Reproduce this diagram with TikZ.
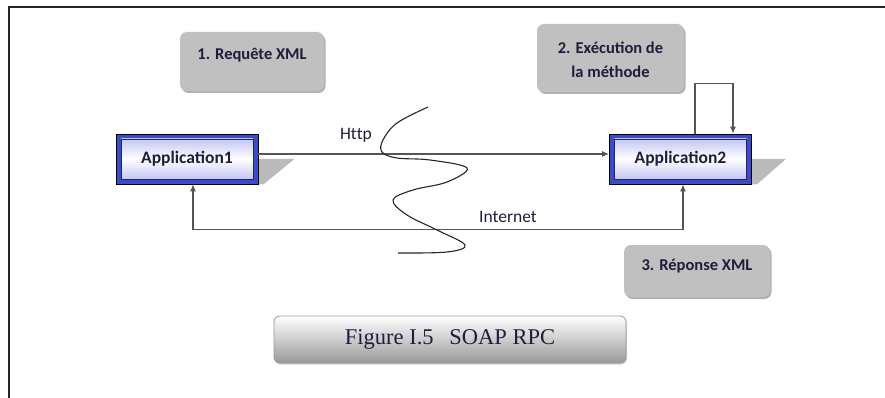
\documentclass[tikz,border=0pt]{standalone}
\usepackage{fontspec}
\setmainfont{Carlito}
\newfontfamily\capfont{Liberation Serif}
\usetikzlibrary{arrows.meta,shadows,backgrounds}
\definecolor{appblue}{HTML}{3A4CC8}
\definecolor{lav}{HTML}{B4B8F0}
\definecolor{boxgray}{HTML}{C0C0C0}
\definecolor{txt}{HTML}{1E1E3C}
\definecolor{linegray}{HTML}{555555}
\definecolor{shadowgray}{HTML}{BBBBBB}
\begin{document}
\begin{tikzpicture}[x=1pt,y=-1pt,
  appbox/.style={draw=black, line width=0.8pt, fill=appblue, minimum width=142pt, minimum height=50pt, inner sep=0pt,
    font=\bfseries\fontsize{17.5}{20}\selectfont, text=txt,
    path picture={
      \shade[top color=lav, bottom color=lav, middle color=white]
        ([shift={(5pt,-5pt)}]path picture bounding box.north west) rectangle ([shift={(-5pt,5pt)}]path picture bounding box.south east);
      \draw[appblue!50!black, line width=0.6pt]
        ([shift={(5pt,-5pt)}]path picture bounding box.north west) rectangle ([shift={(-5pt,5pt)}]path picture bounding box.south east);}},
  graybox/.style={fill=boxgray, rounded corners=7pt, inner sep=0pt,
    drop shadow={shadow xshift=1.5pt, shadow yshift=-2pt, fill=black, opacity=0.3}},
  boxtext/.style={font=\bfseries\fontsize{16.5}{24}\selectfont, text=txt, align=center, inner sep=0pt},
  lbl/.style={font=\fontsize{17.5}{20}\selectfont, text=txt, inner sep=0pt},
  conn/.style={draw=linegray, line width=1.1pt},
  tip/.style={-{Latex[length=7pt,width=6pt]}},
  bothtip/.style={{Latex[length=7pt,width=6pt]}-{Latex[length=7pt,width=6pt]}},
]
\useasboundingbox (0,0) rectangle (885,398);
\draw[line width=2pt, black!85] (885,7) -- (9,7) -- (9,398);

% application boxes
\node[appbox] (app1) at (187,159) {Application1};
\node[appbox] (app2) at (680.5,159) {Application2};
\begin{pgfonlayer}{background}
  \fill[shadowgray] (app1.east) -- ++(36pt,0pt) -- ([xshift=5pt]app1.south east) -- (app1.south east) -- cycle;
  \fill[shadowgray] (app2.east) -- ++(34pt,0pt) -- ([xshift=5pt]app2.south east) -- (app2.south east) -- cycle;
\end{pgfonlayer}

% gray step boxes
\node[graybox, minimum width=144pt, minimum height=59pt] (req) at (252,61.5) {};
\node[boxtext] (reqt) at (252,55) {1. Requête XML};
\node[graybox, minimum width=147pt, minimum height=68pt] (exe) at (610.5,58) {};
\node[boxtext] (exet) at (610.5,60) {2. Exécution de\\la méthode};
\node[graybox, minimum width=146pt, minimum height=52pt] (rep) at (697,271) {};
\node[boxtext] (rept) at (697,266) {3. Réponse XML};

% caption
\node[draw=gray!80, line width=0.8pt, rounded corners=6pt, top color=white, bottom color=gray!80,
  minimum width=352pt, minimum height=47pt, inner sep=0pt,
  font=\capfont\fontsize{22.5}{26}\selectfont, text=txt,
  drop shadow={shadow xshift=1pt, shadow yshift=-1.5pt, fill=black, opacity=0.2}] (cap) at (450,339.5) {Figure I.5\hspace{0.7em}SOAP RPC};

% connectors
\draw[conn, tip] ([yshift=5pt]app1.east) -- ([yshift=5pt]app2.west);
\node[lbl] (http) at (356,135) {Ht\kern0pt tp};
\draw[conn, tip] ([xshift=14.5pt]app2.north) -- ++(0pt,50pt) -| ([xshift=52.5pt]app2.north);
\draw[conn, bothtip] ([xshift=6pt]app1.south) -- ++(0pt,-45pt) -| ([xshift=2.5pt]app2.south);
\node[lbl] (inet) at (508,217) {Internet};

% squiggle (internet cloud symbol)
\draw[black!85, line width=1.1pt] plot[smooth, tension=0.6] coordinates {(428,107) (397,123) (383,140) (382,152) (397,158) (430,160) (467,168) (447,182) (413,190) (393,200) (407,215) (437,230) (465,245) (447,252) (398,253)};
\end{tikzpicture}
\end{document}
